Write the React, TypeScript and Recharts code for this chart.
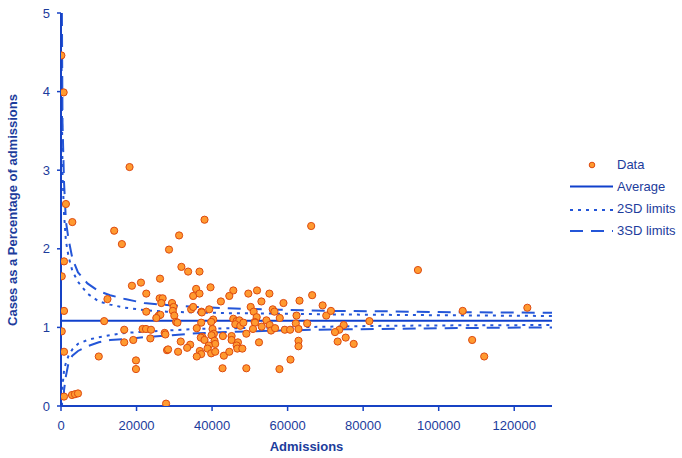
import React from 'react';
import { ComposedChart, XAxis, YAxis, Line, Scatter, ReferenceLine, Label } from 'recharts';

// ---- data ----
const ADMISSIONS = [
  100, 700, 1300, 3000, 800, 200, 800, 200, 800, 800, 2900, 3700, 4500,
  18150, 14080, 16120, 38000, 31270, 28600, 31880, 33660, 36670, 26220, 21170, 18780, 22580, 35780, 34990, 36670, 26120, 26920, 12300,
  26570, 29400, 29800, 29600, 22580, 25860, 26300, 25240, 30000, 30470, 30820, 34460, 35000, 37200, 37120, 11430, 16740, 21600, 22500, 23830,
  27450, 27630, 16740, 19130, 23650, 31700, 35950, 37380, 37010, 34200, 33400, 28080, 28350, 31000, 36750, 37120, 35950, 10000, 19850, 19850, 27820,
  39590, 45620, 44560, 49600, 51900, 55180, 66500, 63150, 58900, 53060, 42330, 50220, 51010, 51810, 51280, 56060, 56510, 57920, 62360, 69270,
  70230, 39240, 37280, 40300, 39770, 40120, 40470, 45620, 46500, 47210, 46150, 47480, 48280, 51360, 50830, 53140, 54390, 55260, 55620, 56680,
  59250, 60660, 62170, 62880, 65170, 38000, 39860, 40650, 40830, 39140, 38790, 39770, 40830, 42860, 43120, 44560, 45170, 45170, 46850, 46500,
  46680, 48010, 49070, 52420, 42770, 49070, 57840, 60760, 62880, 62880, 66240,
  94500, 71470, 74850, 73680, 72540, 75380, 73250, 77500, 81650, 106360, 123470, 108860, 112050,
];
const PERCENT = [
  4.46, 3.99, 2.57, 2.34, 1.84, 1.65, 1.21, 0.95, 0.69, 0.12, 0.14, 0.15, 0.16,
  3.04, 2.23, 2.06, 2.37, 2.17, 1.99, 1.77, 1.71, 1.71, 1.62, 1.57, 1.53, 1.43, 1.49, 1.40, 1.43, 1.37, 1.37, 1.36,
  1.31, 1.31, 1.26, 1.21, 1.20, 1.15, 1.16, 1.12, 1.15, 1.07, 1.06, 1.23, 1.26, 1.20, 1.06, 1.08, 0.97, 0.98, 0.98, 0.97,
  0.93, 0.91, 0.81, 0.84, 0.86, 0.82, 0.99, 0.88, 0.87, 0.78, 0.74, 0.71, 0.72, 0.69, 0.70, 0.66, 0.63, 0.63, 0.58, 0.47, 0.03,
  1.51, 1.47, 1.40, 1.43, 1.47, 1.43, 1.41, 1.34, 1.31, 1.33, 1.33, 1.26, 1.20, 1.13, 1.07, 1.23, 1.20, 1.12, 1.15, 1.28,
  1.15, 1.23, 1.19, 1.10, 1.07, 0.98, 0.92, 1.11, 1.08, 1.09, 1.04, 1.02, 1.06, 1.06, 0.98, 1.01, 1.09, 1.03, 0.96, 0.99,
  0.97, 0.97, 1.05, 0.98, 1.05, 0.84, 0.90, 0.83, 0.79, 0.77, 0.73, 0.67, 0.69, 0.89, 0.64, 0.69, 0.89, 0.84, 0.81, 0.77,
  0.73, 0.73, 0.92, 0.81, 0.48, 0.48, 0.47, 0.59, 0.83, 0.76, 2.29,
  1.73, 1.21, 1.03, 0.97, 0.94, 0.87, 0.82, 0.79, 1.08, 1.21, 1.25, 0.84, 0.63,
];

const AVERAGE = 1.085;

const LIMIT_N = [150, 400, 800, 1300, 2000, 3000, 4500, 7000, 10000, 13000, 17000, 22000, 28000, 36000, 46000, 58000, 72000, 85000, 100000, 115000, 130000];
const UPPER_3SD = [5.8, 3.6, 2.85, 2.35, 2.12, 1.88, 1.7, 1.56, 1.46, 1.41, 1.36, 1.31, 1.285, 1.26, 1.24, 1.225, 1.21, 1.205, 1.195, 1.19, 1.187];
const UPPER_2SD = [4.3, 2.95, 2.45, 2.1, 1.9, 1.72, 1.58, 1.43, 1.33, 1.29, 1.25, 1.22, 1.2, 1.19, 1.18, 1.175, 1.165, 1.16, 1.155, 1.15, 1.145];
const LOWER_2SD = [-0.2, 0.25, 0.45, 0.55, 0.64, 0.72, 0.79, 0.84, 0.875, 0.9, 0.93, 0.945, 0.96, 0.98, 0.99, 1.0, 1.01, 1.02, 1.025, 1.028, 1.03];
const LOWER_3SD = [-1.5, -0.3, 0.2, 0.38, 0.55, 0.64, 0.7, 0.76, 0.81, 0.84, 0.85, 0.875, 0.895, 0.925, 0.945, 0.96, 0.975, 0.98, 0.99, 0.995, 1.0];

const X_TICKS = [0, 20000, 40000, 60000, 80000, 100000, 120000];
const Y_TICKS = [0, 1, 2, 3, 4, 5];
const LEGEND_LABELS = ['Data', 'Average', '2SD limits', '3SD limits'];
const X_TITLE = 'Admissions';
const Y_TITLE = 'Cases as a Percentage of admissions';

// ---- styles ----
const FONT = '"Liberation Sans", Arial, sans-serif';
const AXIS = '#1742c4';
const TEXT = '#1c3c9c';
const CURVE = '#2456d8';
const AVG = '#1040cc';
const PT_FILL = '#ff9a30';
const PT_STROKE = '#dd4a10';

const scatterData = ADMISSIONS.map((n, i) => ({ n, v: PERCENT[i] }));
const limitData = LIMIT_N.map((n, i) => ({
  n,
  up3: UPPER_3SD[i],
  up2: UPPER_2SD[i],
  lo2: LOWER_2SD[i],
  lo3: LOWER_3SD[i],
}));

const Dot = (props: any) => {
  const { cx, cy } = props;
  if (cx == null || cy == null) return null;
  return <circle cx={cx} cy={cy} r={3.6} fill={PT_FILL} stroke={PT_STROKE} strokeWidth={1} />;
};

const YTitle = (props: any) => {
  const cx = 16.5;
  const cy = 210;
  return (
    <text
      x={cx}
      y={cy}
      transform={`rotate(-90, ${cx}, ${cy})`}
      textAnchor="middle"
      fill={TEXT}
      fontFamily={FONT}
      fontSize={13}
      fontWeight="bold"
    >
      {Y_TITLE}
    </text>
  );
};

const XTitle = (props: any) => (
  <text x={306.5} y={451} textAnchor="middle" fill={TEXT} fontFamily={FONT} fontSize={13} fontWeight="bold">
    {X_TITLE}
  </text>
);

const LegendBox = () => {
  const tx = 617;
  const rows = [164, 186, 208, 230];
  return (
    <svg width={682} height={458} style={{ position: 'absolute', left: 0, top: 0, pointerEvents: 'none' }}>
      <circle cx={592} cy={165} r={2.8} fill={PT_FILL} stroke={PT_STROKE} strokeWidth={1} />
      <line x1={570} x2={613} y1={186.5} y2={186.5} stroke={AVG} strokeWidth={2} />
      <line x1={570} x2={613} y1={210} y2={210} stroke={CURVE} strokeWidth={2} strokeDasharray="3 5" />
      <line x1={570} x2={613} y1={231} y2={231} stroke={CURVE} strokeWidth={2} strokeDasharray="13 8" />
      {LEGEND_LABELS.map((l, i) => (
        <text key={l} x={tx} y={rows[i] + 4.6} fill={TEXT} fontFamily={FONT} fontSize={13}>
          {l}
        </text>
      ))}
    </svg>
  );
};

export default function App() {
  return (
    <div style={{ position: 'absolute', left: 0, top: 0, width: 682, height: 458, background: '#fff' }}>
      <ComposedChart width={682} height={458} margin={{ top: 13, right: 130, bottom: 0, left: 0 }}>
        <XAxis
          dataKey="n"
          type="number"
          domain={[0, 130000]}
          ticks={X_TICKS}
          height={52}
          allowDataOverflow
          stroke={AXIS}
          axisLine={{ stroke: AXIS, strokeWidth: 2 }}
          tickLine={{ stroke: AXIS, strokeWidth: 1.5 }}
          tickSize={5}
          tickMargin={10}
          tick={{ fill: TEXT, fontSize: 13, fontFamily: FONT }}
        >
          <Label content={XTitle} />
        </XAxis>
        <XAxis
          xAxisId="top"
          orientation="top"
          type="number"
          domain={[0, 130000]}
          height={0}
          tick={false}
          tickLine={false}
          axisLine={{ stroke: AXIS, strokeWidth: 2 }}
        />
        <YAxis
          type="number"
          domain={[0, 5]}
          ticks={Y_TICKS}
          width={61}
          allowDataOverflow
          axisLine={{ stroke: AXIS, strokeWidth: 2 }}
          tickLine={{ stroke: AXIS, strokeWidth: 1.5 }}
          tickSize={4}
          tickMargin={7}
          tick={{ fill: TEXT, fontSize: 13, fontFamily: FONT }}
        >
          <Label content={YTitle} />
        </YAxis>
        <YAxis
          yAxisId="right"
          orientation="right"
          type="number"
          domain={[0, 5]}
          width={0}
          tick={false}
          tickLine={false}
          axisLine={{ stroke: AXIS, strokeWidth: 2 }}
        />
        <Line data={limitData} dataKey="up3" type="linear" stroke={CURVE} strokeWidth={2} strokeDasharray="13 8" dot={false} isAnimationActive={false} />
        <Line data={limitData} dataKey="lo3" type="linear" stroke={CURVE} strokeWidth={2} strokeDasharray="13 8" dot={false} isAnimationActive={false} />
        <Line data={limitData} dataKey="up2" type="linear" stroke={CURVE} strokeWidth={2} strokeDasharray="3 5" dot={false} isAnimationActive={false} />
        <Line data={limitData} dataKey="lo2" type="linear" stroke={CURVE} strokeWidth={2} strokeDasharray="3 5" dot={false} isAnimationActive={false} />
        <ReferenceLine y={AVERAGE} stroke={AVG} strokeWidth={2} />
        <Scatter data={scatterData} dataKey="v" shape={Dot} isAnimationActive={false} />
      </ComposedChart>
      <LegendBox />
    </div>
  );
}
